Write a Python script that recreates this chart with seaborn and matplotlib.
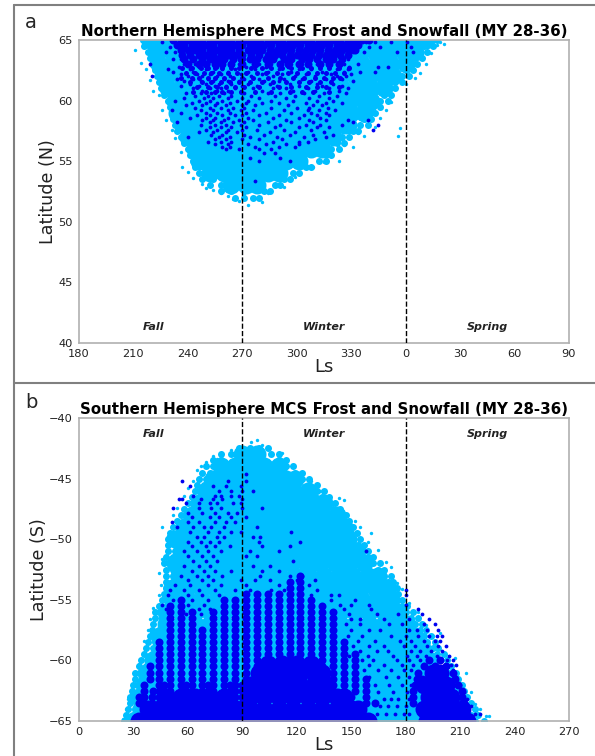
# MCS frost and snowfall scatter, two hemispheres
import matplotlib
matplotlib.use("Agg")
import matplotlib.pyplot as plt
import seaborn as sns
import pandas as pd

LIGHT = "#00BFFF"
DARK = "#0000F0"

season_names = ["Fall", "Winter", "Spring"]
north_ticks = [180, 210, 240, 270, 300, 330, 360, 390, 420, 450]
north_ticklabels = ["180", "210", "240", "270", "300", "330", "0", "30", "60", "90"]
south_ticks = [0, 30, 60, 90, 120, 150, 180, 210, 240, 270]
north_yticks = [40, 45, 50, 55, 60, 65]
south_yticks = [-65, -60, -55, -50, -45, -40]

# points, one list of Ls per latitude row
north_core_lat = [65, 64, 63, 62, 61, 60, 59, 58, 57, 56, 55, 54, 53]
north_core_ls = [
    [219, 227, 235, 243, 251, 259, 267, 275, 283, 291, 299, 307, 315, 323, 331, 339, 347, 355, 363, 371],
    [223, 231, 239, 247, 255, 263, 271, 279, 287, 295, 303, 311, 319, 327, 335, 343, 351, 359, 365],
    [224, 232, 240, 248, 256, 264, 272, 280, 288, 296, 304, 312, 320, 328, 336, 344, 352, 360],
    [228, 236, 244, 252, 260, 268, 276, 284, 292, 300, 308, 316, 324, 332, 340, 348, 353],
    [229, 237, 245, 253, 261, 269, 277, 285, 293, 301, 309, 317, 325, 333, 341, 348],
    [233, 241, 249, 257, 265, 273, 281, 289, 297, 305, 313, 321, 329, 337, 341],
    [234, 242, 250, 258, 266, 274, 282, 290, 298, 306, 314, 322, 330, 337],
    [238, 246, 254, 262, 270, 278, 286, 294, 302, 310, 318, 326, 328],
    [240, 248, 256, 264, 272, 280, 288, 296, 304, 312, 320],
    [244, 252, 260, 268, 276, 284, 292, 300, 308, 314],
    [246, 254, 262, 270, 278, 286, 294, 301],
    [252, 260, 268, 276, 284, 290],
    [264, 272, 278],
]

north_edge_lat = [65, 64.5, 64, 63.5, 63, 62.5, 62, 61.5, 61, 60.5, 60, 59.5, 59, 58.5, 58, 57.5, 57, 56.5, 56, 55.5,
                  55, 54.5, 54, 53.5, 53, 52.5, 52]
north_edge_ls = [
    [215, 220, 372, 377], [216, 221, 370, 375], [218, 222, 368, 372], [219, 223, 365, 369], [220, 225, 362, 366],
    [222, 226, 360, 364], [223, 227, 358, 362], [224, 228, 354, 358], [225, 229, 350, 354], [227, 231, 348, 352],
    [229, 233, 346, 350], [230, 234, 342, 346], [231, 235, 339, 343], [232, 236, 337, 341], [233, 237, 335, 339],
    [234, 238, 331, 334], [236, 240, 325, 329], [238, 242, 322, 326], [240, 244, 319, 323], [241, 245, 316, 319],
    [243, 247, 312, 316], [244, 249, 305, 308], [246, 252, 298, 301], [248, 254, 293, 296], [252, 258, 288, 291],
    [258, 264, 282, 285], [266, 271, 276, 279],
]

north_speck_ls = [211, 214, 217, 219, 221, 224, 226, 228, 231, 233, 236, 237, 240, 243, 248, 250, 254, 258, 262, 265,
                  268, 271, 273, 277, 281, 284, 290, 293, 299, 303, 309, 315, 319, 323, 326, 331, 334, 337, 343, 346,
                  349, 352, 357, 356, 360, 365, 368, 371, 374, 377, 379, 381]
north_speck_lat = [64.2, 63.1, 62.6, 61.7, 60.8, 60.5, 59.2, 58.4, 57.6, 56.9, 55.8, 54.5, 54.1, 53.6, 53.1, 52.8,
                   52.6, 52.4, 52.1, 51.9, 51.7, 52.3, 51.4, 52.0, 51.6, 52.4, 53.1, 52.9, 53.7, 54.6, 54.5, 54.9,
                   55.4, 55.0, 56.3, 56.2, 57.3, 57.1, 57.8, 58.6, 59.2, 59.9, 57.7, 57.1, 61.4, 61.9, 62.3, 63.0,
                   63.9, 64.6, 64.8, 64.7]

north_solid_lat = [65, 64.6, 64.2, 63.8, 63.4, 63.0]
north_solid_ls = [
    [232, 236, 240, 244, 248, 252, 256, 260, 264, 268, 272, 276, 280, 284, 288, 292, 296, 300, 304, 308, 312, 316, 320, 324, 328, 332, 336, 340],
    [234, 238, 242, 246, 250, 254, 258, 262, 266, 270, 274, 278, 282, 286, 290, 294, 298, 302, 306, 310, 314, 318, 322, 326, 330, 334],
    [236, 240, 244, 248, 252, 256, 260, 264, 268, 273, 277, 281, 285, 289, 293, 297, 301, 305, 309, 313, 317, 321, 325, 329, 332],
    [237, 241, 246, 250, 254, 258, 262, 266, 270, 275, 279, 284, 288, 292, 296, 300, 304, 308, 312, 316, 320, 324, 328],
    [238, 243, 248, 252, 256, 260, 265, 269, 274, 278, 283, 287, 293, 297, 303, 307, 311, 316, 320, 325],
    [240, 246, 250, 255, 259, 264, 270, 277, 284, 291, 295, 301, 306, 313, 318, 323],
]

north_mid_lat = [62.7, 62.3, 61.9, 61.5, 61.1, 60.7]
north_mid_ls = [
    [237, 242, 247, 251, 255, 259, 264, 268, 275, 281, 286, 292, 297, 303, 308, 313, 318, 323, 329],
    [239, 244, 249, 253, 257, 262, 267, 272, 278, 283, 289, 295, 300, 306, 311, 316, 321, 326],
    [236, 242, 246, 251, 255, 260, 265, 270, 276, 284, 291, 298, 304, 310, 315, 320, 324],
    [241, 248, 253, 258, 263, 268, 274, 281, 287, 294, 301, 307, 313, 319],
    [245, 251, 256, 261, 266, 271, 279, 290, 297, 305, 311, 316, 323],
    [243, 250, 255, 259, 264, 269, 277, 286, 296, 303, 309, 318],
]

north_dot_lat = [64.8, 64.4, 64.0, 63.4, 63.0, 62.8, 62.6, 62.4, 62.2, 62.0, 61.8, 61.6, 61.4, 61.2, 61.0, 60.8, 60.6,
                 60.4, 60.2, 60.0, 59.8, 59.6, 59.4, 59.2, 59.0, 58.8, 58.6, 58.4, 58.2, 58.0, 57.8, 57.6, 57.4, 57.2,
                 57.0, 56.8, 56.6, 56.4, 56.2, 56.0, 55.7, 55.3, 55.0, 53.4]
north_dot_ls = [
    [226, 338, 343, 352, 361], [230, 333, 340, 346, 363], [228, 233, 331, 337, 355, 364], [232, 236, 247, 258, 271, 287, 302, 316, 328],
    [219, 238, 244, 251, 263, 268, 279, 286, 297, 303, 311, 326, 334], [235, 246, 256, 272, 283, 295, 318, 329, 345, 350],
    [229, 241, 250, 259, 266, 277, 290, 301, 308, 322, 328], [232, 243, 254, 262, 273, 284, 297, 314, 326, 335, 343],
    [236, 245, 252, 258, 269, 281, 292, 305, 319, 330], [220, 240, 248, 256, 263, 275, 287, 299, 310, 322, 327],
    [234, 243, 251, 260, 271, 279, 293, 303, 316, 325], [238, 247, 254, 262, 268, 282, 290, 308, 319, 331],
    [241, 250, 257, 264, 273, 285, 296, 311, 320], [236, 246, 255, 261, 270, 278, 289, 301, 314, 325],
    [243, 252, 258, 266, 276, 287, 294, 306, 318, 328], [248, 256, 262, 269, 281, 298, 310, 323],
    [239, 247, 253, 260, 271, 284, 291, 304, 315, 327], [244, 251, 257, 264, 275, 288, 299, 312, 322],
    [238, 249, 254, 262, 270, 279, 294, 307, 318], [233, 246, 252, 259, 267, 273, 286, 298, 311, 320],
    [242, 250, 256, 263, 272, 281, 290, 305, 316, 325], [239, 248, 255, 261, 270, 277, 295, 309, 314],
    [244, 252, 258, 265, 271, 286, 300, 307, 317], [231, 247, 254, 262, 269, 276, 293, 306, 312, 321],
    [236, 250, 256, 263, 272, 283, 297, 308, 316], [245, 252, 259, 266, 270, 279, 290, 304, 311, 318],
    [241, 250, 255, 262, 273, 287, 301, 313], [248, 254, 260, 268, 276, 294, 307, 316, 328, 339],
    [234, 252, 258, 265, 271, 284, 297, 309, 331], [247, 255, 261, 269, 279, 291, 305, 313, 325, 345],
    [252, 258, 264, 272, 288, 301, 311, 318], [250, 256, 262, 270, 278, 293, 308, 342], [246, 254, 261, 267, 285, 299, 315],
    [253, 259, 271, 282, 296, 309, 320], [240, 257, 263, 274, 289, 304, 316], [255, 261, 270, 279, 292, 310],
    [251, 258, 264, 287, 301, 306], [255, 262, 273, 283, 294, 301], [259, 263, 277, 290, 299], [261, 268, 279, 286],
    [282, 288], [274, 291], [279, 296], [277],
]

south_core_lat = [-65, -64, -63, -62, -61, -60, -59, -58, -57, -56, -55, -54, -53, -52, -51, -50, -49, -48, -47, -46, -45, -44, -43]
south_core_ls = [
    [30, 38, 46, 54, 62, 70, 78, 86, 94, 102, 110, 118, 126, 134, 142, 150, 158, 166, 174, 182, 190, 198, 206, 214],
    [34, 42, 50, 58, 66, 74, 82, 90, 98, 106, 114, 122, 130, 138, 146, 154, 162, 170, 178, 186, 194, 202, 209],
    [33, 41, 49, 57, 65, 73, 81, 89, 97, 105, 113, 121, 129, 137, 145, 153, 161, 169, 177, 185, 193, 201, 207],
    [36, 44, 52, 60, 68, 76, 84, 92, 100, 108, 116, 124, 132, 140, 148, 156, 164, 172, 180, 188, 196, 203],
    [37, 45, 53, 61, 69, 77, 85, 93, 101, 109, 117, 125, 133, 141, 149, 157, 165, 173, 181, 189, 197],
    [41, 49, 57, 65, 73, 81, 89, 97, 105, 113, 121, 129, 137, 145, 153, 161, 169, 177, 185, 193],
    [45, 53, 61, 69, 77, 85, 93, 101, 109, 117, 125, 133, 141, 149, 157, 165, 173, 181, 189],
    [44, 52, 60, 68, 76, 84, 92, 100, 108, 116, 124, 132, 140, 148, 156, 164, 172, 180, 185],
    [48, 56, 64, 72, 80, 88, 96, 104, 112, 120, 128, 136, 144, 152, 160, 168, 176, 181],
    [48, 56, 64, 72, 80, 88, 96, 104, 112, 120, 128, 136, 144, 152, 160, 168, 175],
    [52, 60, 68, 76, 84, 92, 100, 108, 116, 124, 132, 140, 148, 156, 164, 172],
    [51, 59, 67, 75, 83, 91, 99, 107, 115, 123, 131, 139, 147, 155, 163, 170],
    [55, 63, 71, 79, 87, 95, 103, 111, 119, 127, 135, 143, 151, 159, 165],
    [53, 61, 69, 77, 85, 93, 101, 109, 117, 125, 133, 141, 149, 157],
    [57, 65, 73, 81, 89, 97, 105, 113, 121, 129, 137, 145, 153],
    [53, 60, 68, 76, 84, 92, 100, 108, 116, 124, 132, 140, 148],
    [58, 66, 74, 82, 90, 98, 106, 114, 122, 130, 138, 146],
    [62, 70, 78, 86, 94, 102, 110, 118, 126, 134, 142],
    [66, 74, 82, 90, 98, 106, 114, 122, 130, 135],
    [70, 78, 86, 94, 102, 110, 118, 126],
    [74, 82, 90, 98, 106, 114, 119],
    [78, 86, 94, 102, 110],
    [90, 98],
]

south_edge_lat = [-65, -64.5, -64, -63.5, -63, -62.5, -62, -61.5, -61, -60.5, -60, -59.5, -59, -58.5, -58, -57.5, -57, -56.5,
                  -56, -55.5, -55, -54.5, -54, -53.5, -53, -52.5, -52, -51.5, -51, -50.5, -50, -49.5, -49, -48.5, -48,
                  -47.5, -47, -46.5, -46, -45.5, -45, -44.5, -44, -43.5, -43, -42.5]
south_edge_ls = [
    [25, 29, 218, 223], [26, 30, 216, 220], [27, 31, 214, 218], [28, 32, 212, 216], [28, 32, 210, 214], [29, 33, 209, 212],
    [30, 34, 208, 211], [31, 35, 206, 209], [31, 35, 204, 208], [33, 37, 202, 205], [34, 38, 199, 203], [36, 40, 197, 201],
    [37, 41, 195, 198], [38, 42, 192, 196], [39, 43, 190, 194], [40, 44, 188, 191], [41, 45, 185, 189], [42, 46, 183, 187],
    [42, 46, 180, 184], [44, 48, 178, 181], [46, 50, 175, 178], [47, 51, 173, 176], [48, 52, 171, 175], [48, 52, 170, 173],
    [48, 52, 168, 172], [48, 52, 165, 168], [47, 51, 162, 166], [48, 52, 159, 162], [49, 53, 155, 159], [49, 53, 154, 157],
    [49, 53, 151, 155], [50, 54, 150, 153], [52, 56, 147, 151], [54, 58, 145, 149], [56, 60, 143, 147], [58, 62, 140, 144],
    [60, 64, 137, 141], [62, 66, 134, 138], [64, 68, 131, 135], [65, 69, 127, 131], [66, 70, 123, 127], [68, 72, 119, 123],
    [70, 74, 114, 118], [74, 78, 110, 114], [78, 84, 106, 110], [88, 94, 99, 104],
]

south_speck_ls = [24, 26, 27, 29, 31, 33, 35, 36, 38, 39, 41, 44, 45, 44, 46, 46, 49, 52, 54, 58, 60, 63, 65, 67, 70, 74,
                  76, 79, 84, 88, 92, 95, 98, 101, 105, 112, 118, 122, 128, 133, 137, 143, 146, 152, 155, 159, 161, 165,
                  169, 172, 175, 178, 182, 187, 191, 195, 199, 204, 207, 213, 216, 218, 221, 224, 226]
south_speck_lat = [-64.8, -64.0, -63.2, -62.4, -61.2, -60.3, -59.4, -58.4, -57.5, -56.6, -55.7, -54.6, -53.8, -52.8, -51.6,
                   -49.0, -49.7, -48.0, -47.4, -46.4, -45.8, -45.2, -44.3, -44.0, -43.6, -43.1, -43.4, -42.9, -42.6, -42.9,
                   -43.4, -42.0, -41.8, -42.2, -42.9, -42.9, -44.0, -44.5, -45.2, -46.0, -46.7, -46.6, -46.8, -48.5,
                   -49.0, -50.2, -49.5, -50.9, -51.9, -52.3, -53.6, -54.1, -55.3, -56.0, -57.1, -58.0, -57.7, -59.6, -59.8,
                   -61.0, -62.6, -63.6, -64.0, -64.6, -64.6]

south_solid_lat = [-65, -64, -63, -62, -61, -60.3]
south_solid_ls = [
    [33, 41, 49, 57, 65, 73, 81, 89, 97, 105, 113, 121, 129, 137, 145, 153, 159, 192, 200, 208, 214],
    [38, 46, 54, 62, 70, 78, 86, 94, 102, 110, 118, 126, 134, 142, 150, 154, 190, 198, 206, 211],
    [48, 56, 64, 72, 80, 94, 102, 110, 118, 126, 134, 142, 146, 193, 201, 205],
    [94, 98, 106, 114, 122, 130, 136, 190, 197, 202],
    [99, 106, 114, 122, 130, 134, 195, 199],
    [104, 112, 120, 128],
]

south_streak_lat = [-53, -53.5, -54, -54.5, -55, -55.5, -56, -56.5, -57, -57.5, -58, -58.5, -59, -59.5, -60, -60.5, -61, -61.5, -62, -62.5, -63, -63.5]
south_streak_ls = [
    [122], [116, 122], [116, 122], [92, 98, 104, 110, 116, 122],
    [56, 80, 86, 92, 98, 104, 110, 116, 122, 128],
    [50, 56, 80, 86, 92, 98, 104, 110, 116, 122, 128, 134],
    [50, 56, 62, 74, 80, 86, 92, 98, 104, 110, 116, 122, 128, 134, 140],
    [50, 56, 62, 74, 80, 86, 92, 98, 104, 110, 116, 122, 128, 134, 140],
    [50, 56, 62, 74, 80, 86, 92, 98, 104, 110, 116, 122, 128, 134, 140],
    [50, 56, 62, 68, 74, 80, 86, 92, 98, 104, 110, 116, 122, 128, 134, 140],
    [50, 56, 62, 68, 74, 80, 86, 92, 98, 104, 110, 116, 122, 128, 134, 140],
    [44, 50, 56, 62, 68, 74, 80, 86, 92, 98, 104, 110, 116, 122, 128, 134, 140, 146],
    [44, 50, 56, 62, 68, 74, 80, 86, 92, 98, 104, 110, 116, 122, 128, 134, 140, 146],
    [44, 50, 56, 62, 68, 74, 80, 86, 92, 98, 104, 110, 116, 122, 128, 134, 140, 146, 152],
    [44, 50, 56, 62, 68, 74, 80, 86, 92, 98, 104, 110, 116, 122, 128, 134, 140, 146, 152, 193, 199],
    [39, 44, 50, 56, 62, 68, 74, 80, 86, 92, 98, 104, 110, 116, 122, 128, 134, 140, 146, 152, 190, 196, 202],
    [39, 44, 50, 56, 62, 68, 74, 80, 86, 92, 98, 104, 110, 116, 122, 128, 134, 140, 146, 152, 187, 195, 201, 206],
    [39, 44, 50, 56, 62, 68, 74, 80, 86, 92, 98, 104, 110, 116, 122, 128, 134, 140, 146, 152, 158, 186, 189, 195, 201, 207],
    [36, 44, 47, 50, 56, 59, 62, 68, 71, 74, 80, 83, 86, 90, 140, 146, 152, 158, 185, 209],
    [36, 41, 44, 47, 50, 56, 59, 62, 68, 71, 74, 80, 83, 86, 90, 140, 146, 152, 158, 184, 211],
    [33, 36, 40, 44, 47, 50, 53, 56, 59, 62, 65, 68, 71, 74, 77, 80, 83, 86, 90, 150, 158, 184, 211],
    [33, 36, 40, 44, 47, 50, 53, 56, 59, 62, 65, 68, 71, 74, 77, 80, 83, 86, 90, 150, 158, 163, 184, 212],
]

south_dot_lat = [-44.6, -45.2, -45.6, -46.0, -46.4, -46.7, -47.0, -47.4, -47.8, -48.2, -48.6, -49.0, -49.4, -49.8, -50.2,
                 -50.6, -51.0, -51.4, -51.8, -52.2, -52.6, -53.0, -53.4, -53.8, -54.2, -54.6, -55.0, -55.4, -55.8, -56.2,
                 -56.6, -57.0, -57.5, -58.0, -58.4, -58.8, -59.2, -59.6, -60.0, -60.4, -60.8, -61.4, -62.0, -62.6, -63.2,
                 -63.8, -64.4]
south_dot_ls = [
    [92], [57, 82, 92], [61, 74, 81, 89], [77, 84, 90, 96], [63, 75, 78, 84, 88], [55, 57, 67, 74, 79, 90],
    [59, 66, 72, 76, 85, 89], [52, 66, 73, 78, 90, 101], [60, 68, 75, 82, 87], [62, 72, 77, 84, 92], [51, 60, 66, 75, 81, 86],
    [54, 63, 69, 73, 80, 98], [61, 71, 77, 84, 89, 117], [65, 69, 76, 80, 96, 100], [60, 67, 72, 77, 99, 122],
    [62, 70, 75, 83, 101, 116], [58, 65, 71, 78, 94, 110, 158], [60, 68, 74, 92, 98], [63, 70, 76, 118], [58, 66, 72, 96, 105],
    [62, 69, 75, 84, 101, 110], [56, 65, 71, 79, 100, 116, 123], [60, 68, 74, 89, 97, 105, 120, 130], [53, 61, 71, 78, 92, 110, 127],
    [50, 58, 66, 75, 86, 94, 106, 113, 131, 180], [49, 60, 68, 77, 128, 139, 143, 180], [52, 62, 71, 139, 152], [46, 60, 69, 144, 150, 160, 180],
    [48, 66, 72, 146, 161, 187], [59, 67, 149, 164, 176, 189], [150, 155, 168, 182, 193], [147, 155, 171, 178, 190, 196],
    [150, 160, 166, 182, 186, 192, 198], [148, 156, 172, 180, 187, 193, 197, 200], [154, 163, 177, 183, 190, 196, 199],
    [151, 160, 168, 179, 185, 192, 198, 202], [155, 164, 170, 183, 188, 194, 200], [149, 159, 173, 181, 186, 191, 197, 204],
    [156, 162, 175, 182, 188, 203, 206], [160, 168, 178, 184, 205, 208], [157, 165, 172, 179, 183, 206],
    [160, 169, 176, 182, 208], [163, 171, 178, 183, 210], [165, 173, 181, 212], [168, 172, 176, 182, 214],
    [166, 170, 175, 180, 216], [164, 169, 174, 179, 182, 218, 221],
]


def rows_frame(lats, ls_rows):
    # one row of Ls values per latitude -> long table for seaborn
    rows = [(ls, lat) for lat, row in zip(lats, ls_rows) for ls in row]
    return pd.DataFrame(rows, columns=["Ls", "lat"])


def draw_layer(ax, df, diameter, color):
    # diameter in pixels at 100 dpi
    sns.scatterplot(data=df, x="Ls", y="lat", s=(diameter * 0.72) ** 2, color=color,
                    linewidth=0, legend=False, ax=ax, zorder=2)


def style_panel(ax, xlim, ylim, xticks, xlabels, yticks, ylabel, ylabel_x, title, seasons_x, season_y, dash_x):
    ax.set_xlim(xlim)
    ax.set_ylim(ylim)
    ax.set_xticks(xticks)
    ax.set_xticklabels(xlabels)
    ax.set_yticks(yticks)
    ax.tick_params(labelsize=8.2, length=3, width=0.8, color="#555555", labelcolor="#222222", pad=1.5)
    for s in ax.spines.values():
        s.set_color("#b0b0b0")
        s.set_linewidth(1.2)
    ax.set_xlabel("Ls", fontsize=13, color="#222222", va="center")
    ax.set_ylabel(ylabel, fontsize=12.6, color="#222222", va="center")
    ax.xaxis.set_label_coords(0.5, -0.079)
    ax.yaxis.set_label_coords(ylabel_x, 0.5 if ylim[0] < 0 else 0.5)
    ax.set_title(title, fontsize=10.8, fontweight="bold", pad=3, color="black")
    for x in dash_x:
        ax.axvline(x, color="black", linestyle="--", linewidth=1, zorder=3)
    for name, x in zip(season_names, seasons_x):
        ax.text(x, season_y, name, ha="center", va="center", fontsize=8, fontweight="bold",
                fontstyle="italic", color="#222222")


sns.set_style("white")
plt.rcParams["font.family"] = "DejaVu Sans"

fig = plt.figure(figsize=(5.95, 7.56), dpi=100)
W, H = 595.0, 756.0
ax_a = fig.add_axes([79 / W, 1 - 343 / H, 490 / W, 303 / H])
ax_b = fig.add_axes([79 / W, 1 - 721 / H, 490 / W, 303 / H])

# northern hemisphere
draw_layer(ax_a, rows_frame(north_core_lat, north_core_ls), 18, LIGHT)
draw_layer(ax_a, rows_frame(north_edge_lat, north_edge_ls), 7, LIGHT)
draw_layer(ax_a, pd.DataFrame({"Ls": north_speck_ls, "lat": north_speck_lat}), 3.4, LIGHT)
draw_layer(ax_a, rows_frame(north_solid_lat, north_solid_ls), 8, DARK)
draw_layer(ax_a, rows_frame(north_mid_lat, north_mid_ls), 5, DARK)
draw_layer(ax_a, rows_frame(north_dot_lat, north_dot_ls), 3.8, DARK)
style_panel(ax_a, (180, 450), (40, 65), north_ticks, north_ticklabels, north_yticks, "Latitude (N)", -0.063,
            "Northern Hemisphere MCS Frost and Snowfall (MY 28-36)", [221, 315, 405], 41.3, [270, 360])

# southern hemisphere
draw_layer(ax_b, rows_frame(south_core_lat, south_core_ls), 18, LIGHT)
draw_layer(ax_b, rows_frame(south_edge_lat, south_edge_ls), 7, LIGHT)
draw_layer(ax_b, pd.DataFrame({"Ls": south_speck_ls, "lat": south_speck_lat}), 3.4, LIGHT)
draw_layer(ax_b, rows_frame(south_solid_lat, south_solid_ls), 18, DARK)
draw_layer(ax_b, rows_frame(south_streak_lat, south_streak_ls), 8, DARK)
draw_layer(ax_b, rows_frame(south_dot_lat, south_dot_ls), 3.8, DARK)
style_panel(ax_b, (0, 270), (-65, -40), south_ticks, [str(t) for t in south_ticks], south_yticks, "Latitude (S)", -0.082,
            "Southern Hemisphere MCS Frost and Snowfall (MY 28-36)", [41, 135, 225], -41.3, [90, 180])

# panel letters and the frame around them
fig.text(25 / W, 1 - 23 / H, "a", fontsize=14, ha="left", va="center")
fig.text(25 / W, 1 - 402 / H, "b", fontsize=14, ha="left", va="center")
for xs, ys in [([14, 14], [5, 756]), ([14, 595], [5, 5]), ([14, 595], [383, 383])]:
    fig.add_artist(plt.Line2D([x / W for x in xs], [1 - y / H for y in ys], color="#808080", linewidth=1.5))

fig.savefig("out.png", dpi=100)
